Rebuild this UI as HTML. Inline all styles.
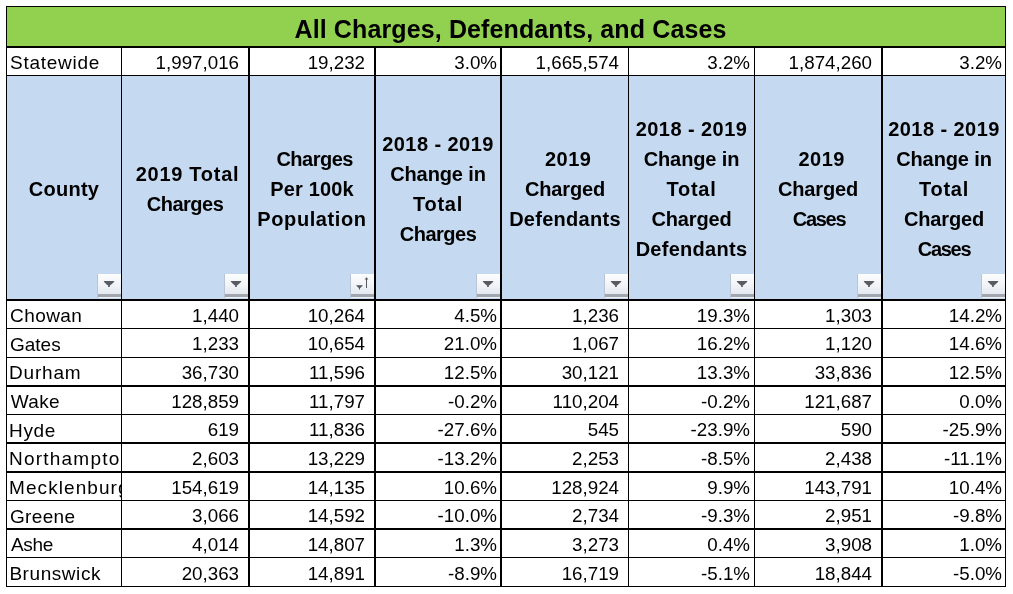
<!DOCTYPE html>
<html lang="en"><head><meta charset="utf-8"><title>All Charges, Defendants, and Cases</title>
<style>
html,body{margin:0;padding:0;background:#fff}
body{width:1013px;height:594px;position:relative;overflow:hidden;font-family:"Liberation Sans", sans-serif;color:#000}
.a,.l,.t,.c,.h,.fb{position:absolute}
.l{background:#000}
.c,.h,.title{will-change:transform}
.c{white-space:nowrap;overflow:hidden;font-size:18.75px;line-height:24px;height:24px}
.n{font-size:19px}
.r{text-align:right;letter-spacing:0px}
.h{font-weight:bold;text-align:center;font-size:20px;line-height:30px;white-space:nowrap;letter-spacing:0px}
.title{position:absolute;left:7px;width:998px;text-align:center;font-weight:bold;white-space:nowrap}
.fb{width:24px;height:24px;box-sizing:border-box;border-left:1px solid #b9c5d6;background:linear-gradient(#fcfdfe 0%,#f3f5f9 40%,#e4e9f0 82%,#a2a7af 84%,#a2a7af 95%,#edf0f4 97%)}
.fb svg{position:absolute;left:-1px;top:0}
</style></head><body>
<div class="a" style="left:7px;top:7px;width:998px;height:39px;background:#92D050"></div>
<div class="a" style="left:7px;top:76px;width:998px;height:223px;background:#C5DAF0"></div>
<div class="title" style="top:14.34px;line-height:30px;font-size:25px;padding-left:9px;box-sizing:border-box;letter-spacing:0.12px">All Charges, Defendants, and Cases</div>
<div class="c n" style="left:7px;top:51.02px;width:114px;padding-left:3px;box-sizing:border-box;letter-spacing:0.75px">Statewide</div>
<div class="c r" style="left:122px;top:50.50px;width:126px;padding-right:9px;box-sizing:border-box">1,997,016</div>
<div class="c r" style="left:250px;top:50.50px;width:124px;padding-right:9px;box-sizing:border-box">19,232</div>
<div class="c r" style="left:376px;top:50.50px;width:124px;padding-right:3px;box-sizing:border-box">3.0%</div>
<div class="c r" style="left:502px;top:50.50px;width:126px;padding-right:9px;box-sizing:border-box">1,665,574</div>
<div class="c r" style="left:629px;top:50.50px;width:125px;padding-right:4px;box-sizing:border-box">3.2%</div>
<div class="c r" style="left:755px;top:50.50px;width:126px;padding-right:9px;box-sizing:border-box">1,874,260</div>
<div class="c r" style="left:883px;top:50.50px;width:122px;padding-right:3px;box-sizing:border-box">3.2%</div>
<div class="h" style="left:7px;top:174.07px;width:114px"><span style="letter-spacing:0.26px">County</span></div>
<div class="h" style="left:122px;top:159.07px;width:126px"><span style="letter-spacing:0.73px;position:relative;left:2.5px">2019 Total</span><br><span style="letter-spacing:-0.5px">Charges</span></div>
<div class="h" style="left:250px;top:144.07px;width:124px"><span style="letter-spacing:-0.5px;position:relative;left:2.7px">Charges</span><br><span style="letter-spacing:0.14px">Per 100k</span><br><span style="letter-spacing:0.6px">Population</span></div>
<div class="h" style="left:376px;top:129.07px;width:124px"><span style="letter-spacing:0.44px">2018 - 2019</span><br><span style="letter-spacing:-0.12px">Change in</span><br><span style="letter-spacing:0.75px">Total</span><br><span style="letter-spacing:-0.5px">Charges</span></div>
<div class="h" style="left:502px;top:144.07px;width:126px"><span style="letter-spacing:0.5px;position:relative;left:3.2px">2019</span><br><span style="letter-spacing:-0.17px">Charged</span><br><span style="letter-spacing:0.28px">Defendants</span></div>
<div class="h" style="left:629px;top:114.07px;width:125px"><span style="letter-spacing:0.44px">2018 - 2019</span><br><span style="letter-spacing:-0.12px">Change in</span><br><span style="letter-spacing:0.75px">Total</span><br><span style="letter-spacing:-0.17px">Charged</span><br><span style="letter-spacing:0.28px">Defendants</span></div>
<div class="h" style="left:755px;top:144.07px;width:126px"><span style="letter-spacing:0.5px;position:relative;left:3.7px">2019</span><br><span style="letter-spacing:-0.17px">Charged</span><br><span style="letter-spacing:-1.3px;position:relative;left:1px">Cases</span></div>
<div class="h" style="left:883px;top:114.07px;width:122px"><span style="letter-spacing:0.44px">2018 - 2019</span><br><span style="letter-spacing:-0.12px">Change in</span><br><span style="letter-spacing:0.75px">Total</span><br><span style="letter-spacing:-0.17px">Charged</span><br><span style="letter-spacing:-1.3px">Cases</span></div>
<div class="c n" style="left:7px;top:304.02px;width:114px;padding-left:3px;box-sizing:border-box;letter-spacing:0.44px">Chowan</div>
<div class="c r" style="left:122px;top:303.50px;width:126px;padding-right:9px;box-sizing:border-box">1,440</div>
<div class="c r" style="left:250px;top:303.50px;width:124px;padding-right:9px;box-sizing:border-box">10,264</div>
<div class="c r" style="left:376px;top:303.50px;width:124px;padding-right:3px;box-sizing:border-box">4.5%</div>
<div class="c r" style="left:502px;top:303.50px;width:126px;padding-right:9px;box-sizing:border-box">1,236</div>
<div class="c r" style="left:629px;top:303.50px;width:125px;padding-right:4px;box-sizing:border-box">19.3%</div>
<div class="c r" style="left:755px;top:303.50px;width:126px;padding-right:9px;box-sizing:border-box">1,303</div>
<div class="c r" style="left:883px;top:303.50px;width:122px;padding-right:3px;box-sizing:border-box">14.2%</div>
<div class="c n" style="left:7px;top:332.52px;width:114px;padding-left:3px;box-sizing:border-box;letter-spacing:0.0px">Gates</div>
<div class="c r" style="left:122px;top:332.00px;width:126px;padding-right:9px;box-sizing:border-box">1,233</div>
<div class="c r" style="left:250px;top:332.00px;width:124px;padding-right:9px;box-sizing:border-box">10,654</div>
<div class="c r" style="left:376px;top:332.00px;width:124px;padding-right:3px;box-sizing:border-box">21.0%</div>
<div class="c r" style="left:502px;top:332.00px;width:126px;padding-right:9px;box-sizing:border-box">1,067</div>
<div class="c r" style="left:629px;top:332.00px;width:125px;padding-right:4px;box-sizing:border-box">16.2%</div>
<div class="c r" style="left:755px;top:332.00px;width:126px;padding-right:9px;box-sizing:border-box">1,120</div>
<div class="c r" style="left:883px;top:332.00px;width:122px;padding-right:3px;box-sizing:border-box">14.6%</div>
<div class="c n" style="left:7px;top:361.02px;width:114px;padding-left:2px;box-sizing:border-box;letter-spacing:0.8px">Durham</div>
<div class="c r" style="left:122px;top:360.50px;width:126px;padding-right:9px;box-sizing:border-box">36,730</div>
<div class="c r" style="left:250px;top:360.50px;width:124px;padding-right:9px;box-sizing:border-box">11,596</div>
<div class="c r" style="left:376px;top:360.50px;width:124px;padding-right:3px;box-sizing:border-box">12.5%</div>
<div class="c r" style="left:502px;top:360.50px;width:126px;padding-right:9px;box-sizing:border-box">30,121</div>
<div class="c r" style="left:629px;top:360.50px;width:125px;padding-right:4px;box-sizing:border-box">13.3%</div>
<div class="c r" style="left:755px;top:360.50px;width:126px;padding-right:9px;box-sizing:border-box">33,836</div>
<div class="c r" style="left:883px;top:360.50px;width:122px;padding-right:3px;box-sizing:border-box">12.5%</div>
<div class="c n" style="left:7px;top:390.02px;width:114px;padding-left:3.8px;box-sizing:border-box;letter-spacing:0.33px">Wake</div>
<div class="c r" style="left:122px;top:389.50px;width:126px;padding-right:9px;box-sizing:border-box">128,859</div>
<div class="c r" style="left:250px;top:389.50px;width:124px;padding-right:9px;box-sizing:border-box">11,797</div>
<div class="c r" style="left:376px;top:389.50px;width:124px;padding-right:3px;box-sizing:border-box">-0.2%</div>
<div class="c r" style="left:502px;top:389.50px;width:126px;padding-right:9px;box-sizing:border-box">110,204</div>
<div class="c r" style="left:629px;top:389.50px;width:125px;padding-right:4px;box-sizing:border-box">-0.2%</div>
<div class="c r" style="left:755px;top:389.50px;width:126px;padding-right:9px;box-sizing:border-box">121,687</div>
<div class="c r" style="left:883px;top:389.50px;width:122px;padding-right:3px;box-sizing:border-box">0.0%</div>
<div class="c n" style="left:7px;top:418.52px;width:114px;padding-left:2px;box-sizing:border-box;letter-spacing:0.67px">Hyde</div>
<div class="c r" style="left:122px;top:418.00px;width:126px;padding-right:9px;box-sizing:border-box">619</div>
<div class="c r" style="left:250px;top:418.00px;width:124px;padding-right:9px;box-sizing:border-box">11,836</div>
<div class="c r" style="left:376px;top:418.00px;width:124px;padding-right:3px;box-sizing:border-box">-27.6%</div>
<div class="c r" style="left:502px;top:418.00px;width:126px;padding-right:9px;box-sizing:border-box">545</div>
<div class="c r" style="left:629px;top:418.00px;width:125px;padding-right:4px;box-sizing:border-box">-23.9%</div>
<div class="c r" style="left:755px;top:418.00px;width:126px;padding-right:9px;box-sizing:border-box">590</div>
<div class="c r" style="left:883px;top:418.00px;width:122px;padding-right:3px;box-sizing:border-box">-25.9%</div>
<div class="c n" style="left:7px;top:447.02px;width:114px;padding-left:2px;box-sizing:border-box;letter-spacing:1.22px">Northampton</div>
<div class="c r" style="left:122px;top:446.50px;width:126px;padding-right:9px;box-sizing:border-box">2,603</div>
<div class="c r" style="left:250px;top:446.50px;width:124px;padding-right:9px;box-sizing:border-box">13,229</div>
<div class="c r" style="left:376px;top:446.50px;width:124px;padding-right:3px;box-sizing:border-box">-13.2%</div>
<div class="c r" style="left:502px;top:446.50px;width:126px;padding-right:9px;box-sizing:border-box">2,253</div>
<div class="c r" style="left:629px;top:446.50px;width:125px;padding-right:4px;box-sizing:border-box">-8.5%</div>
<div class="c r" style="left:755px;top:446.50px;width:126px;padding-right:9px;box-sizing:border-box">2,438</div>
<div class="c r" style="left:883px;top:446.50px;width:122px;padding-right:3px;box-sizing:border-box">-11.1%</div>
<div class="c n" style="left:7px;top:476.02px;width:114px;padding-left:2px;box-sizing:border-box;letter-spacing:1.08px">Mecklenburg</div>
<div class="c r" style="left:122px;top:475.50px;width:126px;padding-right:9px;box-sizing:border-box">154,619</div>
<div class="c r" style="left:250px;top:475.50px;width:124px;padding-right:9px;box-sizing:border-box">14,135</div>
<div class="c r" style="left:376px;top:475.50px;width:124px;padding-right:3px;box-sizing:border-box">10.6%</div>
<div class="c r" style="left:502px;top:475.50px;width:126px;padding-right:9px;box-sizing:border-box">128,924</div>
<div class="c r" style="left:629px;top:475.50px;width:125px;padding-right:4px;box-sizing:border-box">9.9%</div>
<div class="c r" style="left:755px;top:475.50px;width:126px;padding-right:9px;box-sizing:border-box">143,791</div>
<div class="c r" style="left:883px;top:475.50px;width:122px;padding-right:3px;box-sizing:border-box">10.4%</div>
<div class="c n" style="left:7px;top:504.52px;width:114px;padding-left:3px;box-sizing:border-box;letter-spacing:0.34px">Greene</div>
<div class="c r" style="left:122px;top:504.00px;width:126px;padding-right:9px;box-sizing:border-box">3,066</div>
<div class="c r" style="left:250px;top:504.00px;width:124px;padding-right:9px;box-sizing:border-box">14,592</div>
<div class="c r" style="left:376px;top:504.00px;width:124px;padding-right:3px;box-sizing:border-box">-10.0%</div>
<div class="c r" style="left:502px;top:504.00px;width:126px;padding-right:9px;box-sizing:border-box">2,734</div>
<div class="c r" style="left:629px;top:504.00px;width:125px;padding-right:4px;box-sizing:border-box">-9.3%</div>
<div class="c r" style="left:755px;top:504.00px;width:126px;padding-right:9px;box-sizing:border-box">2,951</div>
<div class="c r" style="left:883px;top:504.00px;width:122px;padding-right:3px;box-sizing:border-box">-9.8%</div>
<div class="c n" style="left:7px;top:533.02px;width:114px;padding-left:4px;box-sizing:border-box;letter-spacing:-0.33px">Ashe</div>
<div class="c r" style="left:122px;top:532.50px;width:126px;padding-right:9px;box-sizing:border-box">4,014</div>
<div class="c r" style="left:250px;top:532.50px;width:124px;padding-right:9px;box-sizing:border-box">14,807</div>
<div class="c r" style="left:376px;top:532.50px;width:124px;padding-right:3px;box-sizing:border-box">1.3%</div>
<div class="c r" style="left:502px;top:532.50px;width:126px;padding-right:9px;box-sizing:border-box">3,273</div>
<div class="c r" style="left:629px;top:532.50px;width:125px;padding-right:4px;box-sizing:border-box">0.4%</div>
<div class="c r" style="left:755px;top:532.50px;width:126px;padding-right:9px;box-sizing:border-box">3,908</div>
<div class="c r" style="left:883px;top:532.50px;width:122px;padding-right:3px;box-sizing:border-box">1.0%</div>
<div class="c n" style="left:7px;top:562.02px;width:114px;padding-left:2.4px;box-sizing:border-box;letter-spacing:0.56px">Brunswick</div>
<div class="c r" style="left:122px;top:561.50px;width:126px;padding-right:9px;box-sizing:border-box">20,363</div>
<div class="c r" style="left:250px;top:561.50px;width:124px;padding-right:9px;box-sizing:border-box">14,891</div>
<div class="c r" style="left:376px;top:561.50px;width:124px;padding-right:3px;box-sizing:border-box">-8.9%</div>
<div class="c r" style="left:502px;top:561.50px;width:126px;padding-right:9px;box-sizing:border-box">16,719</div>
<div class="c r" style="left:629px;top:561.50px;width:125px;padding-right:4px;box-sizing:border-box">-5.1%</div>
<div class="c r" style="left:755px;top:561.50px;width:126px;padding-right:9px;box-sizing:border-box">18,844</div>
<div class="c r" style="left:883px;top:561.50px;width:122px;padding-right:3px;box-sizing:border-box">-5.0%</div>
<div class="fb" style="left:97px;top:274px"><svg width="24" height="24" viewBox="0 0 24 24"><path d="M6.7 6.9H17.4L17 8L14.3 10.5L12.8 11.6V12.9H11.1V11.6L9.6 10.5L7.1 8Z" fill="#585c62"/></svg></div>
<div class="fb" style="left:224px;top:274px"><svg width="24" height="24" viewBox="0 0 24 24"><path d="M6.7 6.9H17.4L17 8L14.3 10.5L12.8 11.6V12.9H11.1V11.6L9.6 10.5L7.1 8Z" fill="#585c62"/></svg></div>
<div class="fb" style="left:350px;top:274px"><svg width="24" height="24" viewBox="0 0 24 24"><path d="M6 11.2H13L10 14.3V15.5H9V14.3Z" fill="#55585e"/><path d="M16 14V3.6H17V14ZM14.6 5.6L16.5 3.2L18.4 5.6Z" fill="#55585e"/></svg></div>
<div class="fb" style="left:476px;top:274px"><svg width="24" height="24" viewBox="0 0 24 24"><path d="M6.7 6.9H17.4L17 8L14.3 10.5L12.8 11.6V12.9H11.1V11.6L9.6 10.5L7.1 8Z" fill="#585c62"/></svg></div>
<div class="fb" style="left:604px;top:274px"><svg width="24" height="24" viewBox="0 0 24 24"><path d="M6.7 6.9H17.4L17 8L14.3 10.5L12.8 11.6V12.9H11.1V11.6L9.6 10.5L7.1 8Z" fill="#585c62"/></svg></div>
<div class="fb" style="left:730px;top:274px"><svg width="24" height="24" viewBox="0 0 24 24"><path d="M6.7 6.9H17.4L17 8L14.3 10.5L12.8 11.6V12.9H11.1V11.6L9.6 10.5L7.1 8Z" fill="#585c62"/></svg></div>
<div class="fb" style="left:857px;top:274px"><svg width="24" height="24" viewBox="0 0 24 24"><path d="M6.7 6.9H17.4L17 8L14.3 10.5L12.8 11.6V12.9H11.1V11.6L9.6 10.5L7.1 8Z" fill="#585c62"/></svg></div>
<div class="fb" style="left:981px;top:274px"><svg width="24" height="24" viewBox="0 0 24 24"><path d="M6.7 6.9H17.4L17 8L14.3 10.5L12.8 11.6V12.9H11.1V11.6L9.6 10.5L7.1 8Z" fill="#585c62"/></svg></div>
<div class="l" style="left:6px;top:6px;width:1px;height:581px"></div>
<div class="l" style="left:121px;top:46px;width:1px;height:541px"></div>
<div class="l" style="left:248px;top:46px;width:2px;height:541px"></div>
<div class="l" style="left:374px;top:46px;width:2px;height:541px"></div>
<div class="l" style="left:500px;top:46px;width:2px;height:541px"></div>
<div class="l" style="left:628px;top:46px;width:1px;height:541px"></div>
<div class="l" style="left:754px;top:46px;width:1px;height:541px"></div>
<div class="l" style="left:881px;top:46px;width:2px;height:541px"></div>
<div class="l" style="left:1005px;top:6px;width:1px;height:581px"></div>
<div class="l" style="left:6px;top:6px;width:1000px;height:1px"></div>
<div class="l" style="left:6px;top:46px;width:1000px;height:2px"></div>
<div class="l" style="left:6px;top:75px;width:1000px;height:1px"></div>
<div class="l" style="left:6px;top:299px;width:1000px;height:2px"></div>
<div class="l" style="left:6px;top:328px;width:1000px;height:1px"></div>
<div class="l" style="left:6px;top:357px;width:1000px;height:1px"></div>
<div class="l" style="left:6px;top:385px;width:1000px;height:2px"></div>
<div class="l" style="left:6px;top:414px;width:1000px;height:1px"></div>
<div class="l" style="left:6px;top:442px;width:1000px;height:2px"></div>
<div class="l" style="left:6px;top:471px;width:1000px;height:2px"></div>
<div class="l" style="left:6px;top:500px;width:1000px;height:1px"></div>
<div class="l" style="left:6px;top:528px;width:1000px;height:2px"></div>
<div class="l" style="left:6px;top:557px;width:1000px;height:1px"></div>
<div class="l" style="left:6px;top:586px;width:1000px;height:1px"></div>
</body></html>
